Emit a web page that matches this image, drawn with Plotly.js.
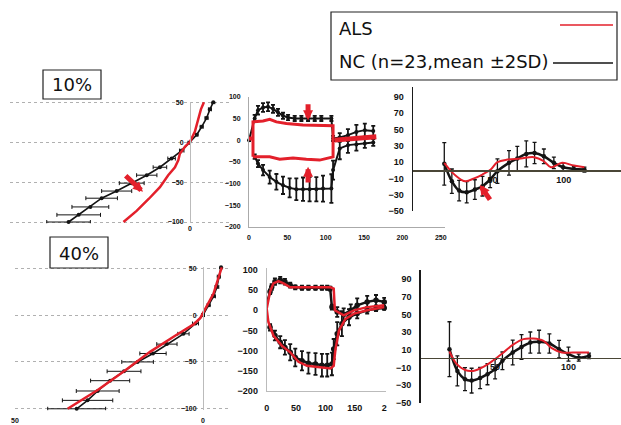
<!DOCTYPE html>
<html><head><meta charset="utf-8">
<script src="https://cdn.plot.ly/plotly-3.0.1.min.js"></script>
<style>html,body{margin:0;padding:0;background:#fff}#chart{width:621px;height:425px}</style>
</head><body><div id="chart"></div>
<script>
// ---------- Panel A (10%, left) ----------
const a_nc_x  = [32.3,29.6,26.5,23.5,19.5,15.5,11.5,8,4.9,2.2,0.2,-1.8,-3.1,-4.4,-5.3,-6.2];
const a_nc_y  = [-100,-91,-81,-70,-61,-51,-41,-31,-20,-10,0,10,20,31,42,51];
const a_nc_sd = [5.8,5.8,4.9,4.2,4,3.3,2.7,1.8,1,0.6,0.3,0.3,0.4,0.4,0.4,0.4];
const a_als_x = [17.7,14.2,11,8,5.8,4,3.1,2.7,1.3,0,-1.3,-2.2,-2.9,-3.7];
const a_als_y = [-100,-86,-71,-56,-41,-31,-22,-14,-5,1,14,29,42,51];
// ---------- Panel B (10%, middle) ----------
const b_up_x  = [0,7.4,11.7,18.3,24.8,31.3,37.8,44.3,50.9,59.6,68.3,77,85.7,94.3,107.4,109.6,118.3,129,140,151,162];
const b_up_y  = [0,50,69,75,77,72,64,56,52,50,50,50,50,50,50,4,6,11.5,19,23,21];
const b_up_sd = [2,8,10,10,10,9,8,7,6,6,6,6,6,6,6,6,10,14,16,15,12];
const b_lo_x  = [7.4,11.7,18.3,27,35.7,44.3,53,61.7,70.4,79,87.8,96.5,107.4,109.6,118.3,129,140,151,162];
const b_lo_y  = [-38,-54,-69,-85,-96,-104,-110,-113,-113,-113,-113,-111.5,-111.5,-69,-19,-11.5,-10,-7.7,-5.4];
const b_lo_sd = [5,8,12,15,18,20,22,25,27,28,28,30,33,22,25,18,14,10,8];
const b_als_x = [5.2,5.2,18.3,27,35.7,48.7,70.4,92.2,109.6,109.6,92.2,74.8,57.4,40,27,5.2];
const b_als_y = [-38.5,42,44,48,42,38.5,34.6,33,33,-38.5,-46,-44,-41,-44,-38.5,-38.5];
const b_als_pre_x = [-3.5,5.2];
const b_als_pre_y = [4,4];
const b_als_post_x = [111.7,166];
const b_als_post_y = [0,7.7];
// ---------- Panel C (10%, right) ----------
const c_nc_x  = [16.3,21.6,26.7,32,37.7,43,48.4,53.5,61.6,67.4,73.7,79.5,86,93,99.5,107,114.4];
const c_nc_y  = [7.8,-13.5,-25,-27,-23.7,-19.6,-11.4,-1.2,9,14.3,20,21,17,9,3.7,1.6,0.8];
const c_nc_sd = [26,15,12.6,13,12,12,10,15,15,15,16,13,9,7,5,3,3];
const c_als_x = [16.3,22,27.9,31.4,37.2,43,48.8,53.5,60.5,69.8,79,86,91,98.8,107,114.4];
const c_als_y = [9,-3,-11.4,-13.5,-10,-5.3,0.8,9.8,13,14.3,16,11,3.7,9,5.7,3.7];
// ---------- Panel D (40%, left) ----------
const d_nc_x  = [33.6,30.7,28,24.7,21,17.4,13.3,9.6,5.2,2,0,-1.5,-2.8,-3.7,-4.2,-4.8];
const d_nc_y  = [-100,-91,-81,-70,-60,-50,-41,-31,-20,-9,0,10.6,20,30,41,51];
const d_nc_sd = [7.7,6.7,5.7,5.2,4.5,4.2,3.5,2.7,1.5,0.8,0.4,0.4,0.5,0.5,0.4,0.4];
const d_als_x = [36,28,21,14,7,2.5,0.7,-1,-2.8,-4.6,-5];
const d_als_y = [-100,-80,-60,-39,-21,-10,-3,9,23,46,51];
// ---------- Panel E (40%, middle) ----------
const e_up_x  = [-3,5.7,8.6,14,23,31,40,48.6,60,71,83,94,103,108,111,120,131,143,154,171,186,200];
const e_up_y  = [4,46,58,71,75,71,62.5,57,56,56,56,56,56,54,8,-4,-10,0,12.5,21,25,21];
const e_up_sd = [2,6,7,8,8,7,6,5,5,5,5,5,5,5,6,12,15,15,17,15,13,10];
const e_lo_x  = [5.7,14,23,31,40,48.6,60,71,83,94,103,111,114,120,128,140,154,171,186,200];
const e_lo_y  = [-42,-62.5,-79,-92,-104,-117,-125,-131,-133,-136,-136,-133,-96,-58,-33,-17,-8,0,4,6];
const e_lo_sd = [8,12,15,18,20,22,24,26,27,28,28,28,25,29,31,20,12,8,6,5];
const e_als_up_x = [0,5.7,11.4,20,28.6,40,57,108.6,114,116,131,148.6,171,200];
const e_als_up_y = [4,46,67,72.5,67,57,57,57,54,0,-12.5,0,8,12.5];
const e_als_lo_x = [0,2.9,11.4,25.7,40,54,68.6,91.4,108.6,114,117,123,134,148.6,171,200];
const e_als_lo_y = [4,-29,-62.5,-87.5,-104,-127.5,-137.5,-141.7,-144,-137.5,-96,-50,-21,-8,0,8];
// ---------- Panel F (40%, right) ----------
const f_nc_x  = [18.9,24.3,29.5,34,39.8,44.8,50,55,62,68,74,80,87,93.6,100,107,114];
const f_nc_y  = [10.6,-14,-23.4,-25,-22,-17.7,-12,-2.6,6.8,13,18,19,17,10.6,5,1,3];
const f_nc_sd = [31,17,13,14,12,12,11,10,14,14,12,13,11,10,8,4,3];
const f_als_x = [18.9,23.9,29.5,35,42,48.9,55.7,62.5,69.3,76,83,88.6,95.5,103,114];
const f_als_y = [8,-6.4,-13,-14,-9.4,-1.9,6.8,16,22,22.6,20,11.7,6.8,6.8,6.8];
// ---------- Texts ----------
const panelLabels = ['10%','40%'];
const legendLabels = ['ALS','NC (n=23,mean \u00b12SD)'];
const abTicks = [-100,-50,0,50];
const midTicks = [-200,-150,-100,-50,0,50,100];
const rightTicks = [-50,-30,-10,10,30,50,70,90];

const RED = '#e3202b', BLK = '#141414';
const W = 621, H = 425;
const fx = p => p / W, fy = p => 1 - p / H;

function nc(x, y, sd, xa, ya, horiz, o) {
  const t = {x, y, xaxis: xa, yaxis: ya, type: 'scatter', mode: 'lines+markers',
    line: {color: BLK, width: o.lw, shape: o.shape || 'linear'},
    marker: {color: BLK, size: o.ms}, cliponaxis: false, showlegend: false, hoverinfo: 'skip'};
  const eb = {type: 'data', array: sd, visible: true, color: BLK, thickness: o.et, width: o.ew};
  if (horiz) t.error_x = eb; else t.error_y = eb;
  return t;
}
function als(x, y, xa, ya, w, shape) {
  return {x, y, xaxis: xa, yaxis: ya, type: 'scatter', mode: 'lines',
    line: {color: RED, width: w, shape: shape || 'linear'}, cliponaxis: false, showlegend: false, hoverinfo: 'skip'};
}

const data = [
  nc(a_nc_x, a_nc_y, a_nc_sd, 'x', 'y', true, {lw: 1.6, ms: 4, et: 1, ew: 2}),
  als(a_als_x, a_als_y, 'x', 'y', 2.5),
  nc(b_up_x, b_up_y, b_up_sd, 'x2', 'y2', false, {lw: 2, ms: 4, et: 1.8, ew: 2}),
  nc(b_lo_x, b_lo_y, b_lo_sd, 'x2', 'y2', false, {lw: 2, ms: 4, et: 1.8, ew: 2}),
  als(b_als_x, b_als_y, 'x2', 'y2', 3),
  als(b_als_pre_x, b_als_pre_y, 'x2', 'y2', 4),
  als(b_als_post_x, b_als_post_y, 'x2', 'y2', 5),
  nc(c_nc_x, c_nc_y, c_nc_sd, 'x3', 'y3', false, {lw: 2.5, ms: 4.5, et: 1.3, ew: 2, shape: 'spline'}),
  als(c_als_x, c_als_y, 'x3', 'y3', 2, 'spline'),
  nc(d_nc_x, d_nc_y, d_nc_sd, 'x4', 'y4', true, {lw: 1.6, ms: 4, et: 1, ew: 2}),
  als(d_als_x, d_als_y, 'x4', 'y4', 2.5),
  nc(e_up_x, e_up_y, e_up_sd, 'x5', 'y5', false, {lw: 2.5, ms: 5.5, et: 1.8, ew: 2}),
  nc(e_lo_x, e_lo_y, e_lo_sd, 'x5', 'y5', false, {lw: 2.5, ms: 5.5, et: 1.8, ew: 2}),
  als(e_als_up_x, e_als_up_y, 'x5', 'y5', 2.5),
  als(e_als_lo_x, e_als_lo_y, 'x5', 'y5', 2.5),
  nc(f_nc_x, f_nc_y, f_nc_sd, 'x6', 'y6', false, {lw: 2.5, ms: 4.5, et: 1.3, ew: 2, shape: 'spline'}),
  als(f_als_x, f_als_y, 'x6', 'y6', 2, 'spline')
];

const tf = s => ({family: 'Liberation Sans, Arial, sans-serif', size: s, color: '#111', weight: 'bold'});
const base = {fixedrange: true, zeroline: false, ticks: '', showgrid: false};
const grid = {showgrid: true, gridcolor: '#b0b0b0', griddash: 'dot', gridwidth: 1};

const layout = {
  width: W, height: H, margin: {l: 0, r: 0, t: 0, b: 0},
  paper_bgcolor: '#fff', plot_bgcolor: 'rgba(0,0,0,0)', showlegend: false,
  // A
  xaxis: Object.assign({}, base, {domain: [fx(10), fx(230)], range: [180/3.76, -40/3.76], anchor: 'y',
    tickmode: 'array', tickvals: [0], tickfont: tf(7), showline: false}),
  yaxis: Object.assign({}, base, grid, {domain: [fy(223.2), fy(101.8)], range: [-101.5, 51.5], anchor: 'free', position: fx(190),
    showline: true, linecolor: '#bbb', tickmode: 'array', tickvals: abTicks, tickfont: tf(7), ticklabelstandoff: 5}),
  // B
  xaxis2: Object.assign({}, base, {domain: [fx(249), fx(445)], range: [0, 196/0.767], anchor: 'y2',
    showline: true, linecolor: '#aaa', tickmode: 'array', tickvals: [0,50,100,150,200,250], tickfont: tf(7), ticklabelstandoff: 4}),
  yaxis2: Object.assign({}, base, {domain: [fy(227), fy(96.7)], range: [-200, 100], anchor: 'x2',
    showline: true, linecolor: '#aaa', tickmode: 'array', tickvals: midTicks, tickfont: tf(7), ticklabelstandoff: 6}),
  // C
  xaxis3: Object.assign({}, base, {domain: [fx(413), fx(621)], range: [-5.6, 140], anchor: 'free', position: fy(170.2),
    showline: true, linecolor: '#4a4636', linewidth: 1.5, tickmode: 'array', tickvals: [50,100], tickfont: tf(9)}),
  yaxis3: Object.assign({}, base, {domain: [fy(211), fy(87)], range: [-50, 102], anchor: 'x3',
    showline: true, linecolor: '#1a1a1a', linewidth: 1.5, tickmode: 'array', tickvals: rightTicks, tickfont: tf(9), ticklabelstandoff: 6}),
  // D
  xaxis4: Object.assign({}, base, {domain: [fx(15), fx(230)], range: [50, -27/3.76], anchor: 'y4',
    tickmode: 'array', tickvals: [50, 0], tickfont: tf(7), showline: false, ticklabelstandoff: 5}),
  yaxis4: Object.assign({}, base, grid, {domain: [fy(410.2), fy(266.8)], range: [-101.5, 51.5], anchor: 'free', position: fx(203),
    showline: true, linecolor: '#bbb', tickmode: 'array', tickvals: abTicks, tickfont: tf(7), ticklabelstandoff: 5}),
  // E
  xaxis5: Object.assign({}, base, {domain: [fx(266.7), fx(386)], range: [0, 203], anchor: 'y5',
    showline: true, linecolor: '#bbb', tickmode: 'array', tickvals: [0,50,100,150,200], ticktext: ['0','50','100','150','2'],
    tickfont: tf(9), ticklabelstandoff: 8}),
  yaxis5: Object.assign({}, base, {domain: [fy(391), fy(268)], range: [-200, 105], anchor: 'x5',
    showline: true, linecolor: '#bbb', tickmode: 'array', tickvals: midTicks, tickfont: tf(9), ticklabelstandoff: 6}),
  // F
  xaxis6: Object.assign({}, base, {domain: [fx(420.7), fx(621)], range: [-0.7, 135.8], anchor: 'free', position: fy(357.5),
    showline: true, linecolor: '#4a4636', linewidth: 1.5, tickmode: 'array', tickvals: [50,100], tickfont: tf(9)}),
  yaxis6: Object.assign({}, base, {domain: [fy(402.7), fy(270)], range: [-50, 100.2], anchor: 'x6',
    showline: true, linecolor: '#1a1a1a', linewidth: 1.5, tickmode: 'array', tickvals: rightTicks, tickfont: tf(9), ticklabelstandoff: 6}),
  shapes: [
    {type: 'rect', xref: 'paper', yref: 'paper', x0: fx(43), x1: fx(101), y0: fy(99), y1: fy(70), line: {color: '#222', width: 1.2}},
    {type: 'rect', xref: 'paper', yref: 'paper', x0: fx(50), x1: fx(108), y0: fy(268), y1: fy(237), line: {color: '#222', width: 1.2}},
    {type: 'rect', xref: 'paper', yref: 'paper', x0: fx(331), x1: fx(617), y0: fy(80), y1: fy(12), line: {color: '#222', width: 1.2}},
    {type: 'line', xref: 'paper', yref: 'paper', x0: fx(560), x1: fx(613), y0: fy(25), y1: fy(25), line: {color: RED, width: 1.5}},
    {type: 'line', xref: 'paper', yref: 'paper', x0: fx(553), x1: fx(613), y0: fy(63), y1: fy(63), line: {color: BLK, width: 1.5}}
  ],
  annotations: [
    {xref: 'paper', yref: 'paper', x: fx(72), y: fy(85), text: panelLabels[0], showarrow: false,
      font: {family: 'DejaVu Sans, sans-serif', size: 18, color: '#111'}, xanchor: 'center', yanchor: 'middle'},
    {xref: 'paper', yref: 'paper', x: fx(79), y: fy(253), text: panelLabels[1], showarrow: false,
      font: {family: 'DejaVu Sans, sans-serif', size: 18, color: '#111'}, xanchor: 'center', yanchor: 'middle'},
    {xref: 'paper', yref: 'paper', x: fx(337), y: fy(28), text: legendLabels[0], showarrow: false,
      font: {family: 'DejaVu Sans, sans-serif', size: 18, color: '#111'}, xanchor: 'left', yanchor: 'middle'},
    {xref: 'paper', yref: 'paper', x: fx(337), y: fy(61), text: legendLabels[1], showarrow: false,
      font: {family: 'DejaVu Sans, sans-serif', size: 18, color: '#111'}, xanchor: 'left', yanchor: 'middle'},
    // arrows
    {xref: 'x', yref: 'y', x: 12.5, y: -62, axref: 'x', ayref: 'y', ax: 17.5, ay: -40, text: '', showarrow: true,
      arrowcolor: RED, arrowwidth: 5, arrowhead: 2, arrowsize: 0.4},
    {xref: 'x2', yref: 'y2', x: 77, y: 46, axref: 'x2', ayref: 'y2', ax: 77, ay: 86, text: '', showarrow: true,
      arrowcolor: RED, arrowwidth: 5, arrowhead: 2, arrowsize: 0.4},
    {xref: 'x2', yref: 'y2', x: 77, y: -61, axref: 'x2', ayref: 'y2', ax: 77, ay: -101, text: '', showarrow: true,
      arrowcolor: RED, arrowwidth: 5, arrowhead: 2, arrowsize: 0.4},
    {xref: 'x3', yref: 'y3', x: 41.2, y: -18, axref: 'x3', ayref: 'y3', ax: 49, ay: -38, text: '', showarrow: true,
      arrowcolor: RED, arrowwidth: 5, arrowhead: 2, arrowsize: 0.4}
  ]
};

Plotly.newPlot('chart', data, layout, {staticPlot: true, displayModeBar: false});
</script>
</body></html>
